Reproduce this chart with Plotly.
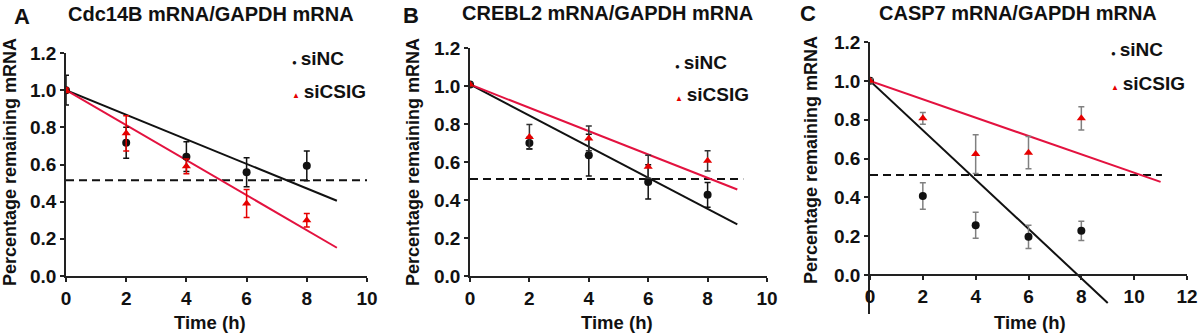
import plotly.graph_objects as go

W, H = 1201, 335

time_h = [0, 2, 4, 6, 8]

# Panel A: Cdc14B
a_sinc = [1.0, 0.717, 0.642, 0.558, 0.593]
a_sinc_err = [0.08, 0.083, 0.08, 0.078, 0.08]
a_sicsig = [1.0, 0.768, 0.59, 0.39, 0.30]
a_sicsig_err = [0.012, 0.095, 0.04, 0.075, 0.036]
a_fit_x = [0, 9]
a_fit_sinc = [1.0, 0.405]
a_fit_sicsig = [1.0, 0.152]
a_half_x = [0, 10]
a_half_y = [0.515, 0.515]

# Panel B: CREBL2
b_sinc = [1.008, 0.70, 0.636, 0.495, 0.427]
b_sinc_err = [0.01, 0.03, 0.11, 0.09, 0.065]
b_sicsig = [1.008, 0.732, 0.724, 0.575, 0.606]
b_sicsig_err = [0.01, 0.065, 0.065, 0.06, 0.053]
b_fit_x = [0, 9]
b_fit_sinc = [1.008, 0.272]
b_fit_sicsig = [1.008, 0.455]
b_half_x = [0, 9.2]
b_half_y = [0.51, 0.51]

# Panel C: CASP7
c_sinc = [1.0, 0.407, 0.257, 0.197, 0.228]
c_sinc_err = [0.01, 0.068, 0.067, 0.06, 0.05]
c_sicsig = [1.0, 0.807, 0.623, 0.630, 0.807]
c_sicsig_err = [0.01, 0.03, 0.1, 0.083, 0.06]
c_fit_sinc_x = [0, 9]
c_fit_sinc = [1.0, -0.143]
c_fit_sicsig_x = [0, 11]
c_fit_sicsig = [1.0, 0.48]
c_half_x = [0, 11.05]
c_half_y = [0.515, 0.515]

titles = ["Cdc14B mRNA/GAPDH mRNA", "CREBL2 mRNA/GAPDH mRNA", "CASP7 mRNA/GAPDH mRNA"]
letters = ["A", "B", "C"]
y_ticks = [0, 0.2, 0.4, 0.6, 0.8, 1.0, 1.2]
x_ticks_ab = [0, 2, 4, 6, 8, 10]
x_ticks_c = [0, 2, 4, 6, 8, 10, 12]

BLACK = "#111111"
RED_LINE = "#e3123f"
RED_MK = "#e60000"
GREY = "#808080"
FONT = "Liberation Sans"

fig = go.Figure()

def px_x(p):
    return p / W

def px_y(p):
    return 1 - p / H

panels = [
    dict(ax="", half=(a_half_x, a_half_y),
         fits=[(a_fit_x, a_fit_sinc, BLACK), (a_fit_x, a_fit_sicsig, RED_LINE)],
         sinc=(a_sinc, a_sinc_err, BLACK), sicsig=(a_sicsig, a_sicsig_err, RED_MK)),
    dict(ax="2", half=(b_half_x, b_half_y),
         fits=[(b_fit_x, b_fit_sinc, BLACK), (b_fit_x, b_fit_sicsig, RED_LINE)],
         sinc=(b_sinc, b_sinc_err, BLACK), sicsig=(b_sicsig, b_sicsig_err, "#333333")),
    dict(ax="3", half=(c_half_x, c_half_y),
         fits=[(c_fit_sinc_x, c_fit_sinc, BLACK), (c_fit_sicsig_x, c_fit_sicsig, RED_LINE)],
         sinc=(c_sinc, c_sinc_err, GREY), sicsig=(c_sicsig, c_sicsig_err, GREY)),
]

for p in panels:
    xa, ya = "x" + p["ax"], "y" + p["ax"]
    hx, hy = p["half"]
    fig.add_trace(go.Scatter(x=hx, y=hy, mode="lines", xaxis=xa, yaxis=ya,
                             line=dict(color=BLACK, width=2, dash="8px,5px"), showlegend=False))
    for fx, fy, col in p["fits"]:
        fig.add_trace(go.Scatter(x=fx, y=fy, mode="lines", xaxis=xa, yaxis=ya,
                                 line=dict(color=col, width=2), showlegend=False))
    v, e, ecol = p["sinc"]
    fig.add_trace(go.Scatter(x=time_h, y=v, mode="markers", xaxis=xa, yaxis=ya, name="siNC",
                             marker=dict(symbol="circle", size=8, color=BLACK),
                             error_y=dict(type="data", array=e, color=ecol, thickness=1.5, width=3),
                             showlegend=False))
    v, e, ecol = p["sicsig"]
    fig.add_trace(go.Scatter(x=time_h, y=v, mode="markers", xaxis=xa, yaxis=ya, name="siCSIG",
                             marker=dict(symbol="triangle-up", size=8, color=RED_MK),
                             error_y=dict(type="data", array=e, color=ecol, thickness=1.5, width=3),
                             showlegend=False))

tickfont = dict(family=FONT, size=19, color=BLACK, weight="bold")
axis_common = dict(showline=True, linecolor="#222222", linewidth=1.6, ticks="outside",
                   ticklen=4, tickwidth=1.5, tickcolor="#222222", showgrid=False,
                   zeroline=False, tickfont=tickfont, fixedrange=True, automargin=False)

fig.update_layout(
    xaxis=dict(domain=[px_x(66), px_x(367)], range=[0, 10], tickvals=x_ticks_ab,
               anchor="y", **axis_common),
    yaxis=dict(domain=[px_y(276), px_y(53)], range=[0, 1.2], tickvals=y_ticks,
               tickformat=".1f", anchor="x", **axis_common),
    xaxis2=dict(domain=[px_x(470), px_x(767)], range=[0, 10], tickvals=x_ticks_ab,
                anchor="y2", **axis_common),
    yaxis2=dict(domain=[px_y(276), px_y(48)], range=[0, 1.2], tickvals=y_ticks,
                tickformat=".1f", anchor="x2", **axis_common),
    xaxis3=dict(domain=[px_x(870), px_x(1187)], range=[0, 12], tickvals=x_ticks_c,
                anchor="free", position=px_y(275), **axis_common),
    yaxis3=dict(domain=[px_y(314), px_y(42)], range=[-0.2, 1.2], tickvals=y_ticks,
                tickformat=".1f", anchor="x3", **axis_common),
)

annots = []
letter_pos = [(22, 16), (411, 15), (808, 14)]
title_pos = [(211, 14), (607, 13), (1018, 13)]
ytitle_pos = [(10, 162), (413, 162), (811, 160)]
xtitle_pos = [(210, 322), (617, 322), (1030, 322)]
leg_pos = [(293, 58, 92), (676, 62, 95), (1112, 49, 83)]

for i in range(3):
    lx, ly = letter_pos[i]
    annots.append(dict(text=letters[i], x=px_x(lx), y=px_y(ly), xref="paper", yref="paper",
                       showarrow=False, xanchor="center", yanchor="middle",
                       font=dict(family=FONT, size=22, color=BLACK, weight="bold")))
    tx, ty = title_pos[i]
    annots.append(dict(text=titles[i], x=px_x(tx), y=px_y(ty), xref="paper", yref="paper",
                       showarrow=False, xanchor="center", yanchor="middle",
                       font=dict(family=FONT, size=20, color=BLACK, weight="bold")))
    yx, yy = ytitle_pos[i]
    annots.append(dict(text="Percentage remaining mRNA", x=px_x(yx), y=px_y(yy), xref="paper",
                       yref="paper", showarrow=False, textangle=-90, xanchor="center",
                       yanchor="middle",
                       font=dict(family=FONT, size=18, color=BLACK, weight="bold")))
    xx, xy = xtitle_pos[i]
    annots.append(dict(text="Time (h)", x=px_x(xx), y=px_y(xy), xref="paper", yref="paper",
                       showarrow=False, xanchor="center", yanchor="middle",
                       font=dict(family=FONT, size=18.5, color=BLACK, weight="bold")))
    bx, y1, y2 = leg_pos[i]
    annots.append(dict(text="<span style='font-size:8px'>●</span>\u2009siNC", x=px_x(bx - 3),
                       y=px_y(y1), xref="paper", yref="paper", showarrow=False,
                       xanchor="left", yanchor="middle",
                       font=dict(family=FONT, size=19, color=BLACK, weight="bold")))
    annots.append(dict(text="<span style='font-size:8px;color:" + RED_MK + "'>▲</span>\u2009siCSIG",
                       x=px_x(bx - 3), y=px_y(y2), xref="paper", yref="paper",
                       showarrow=False, xanchor="left", yanchor="middle",
                       font=dict(family=FONT, size=19, color=BLACK, weight="bold")))

fig.update_layout(
    width=W, height=H, margin=dict(l=0, r=0, t=0, b=0, autoexpand=False),
    paper_bgcolor="white", plot_bgcolor="white",
    annotations=annots, showlegend=False,
    font=dict(family=FONT, color=BLACK),
)

fig.write_html("out.html", config={"displayModeBar": False},
               post_script="document.body.style.margin='0';document.body.style.overflow='hidden';")
